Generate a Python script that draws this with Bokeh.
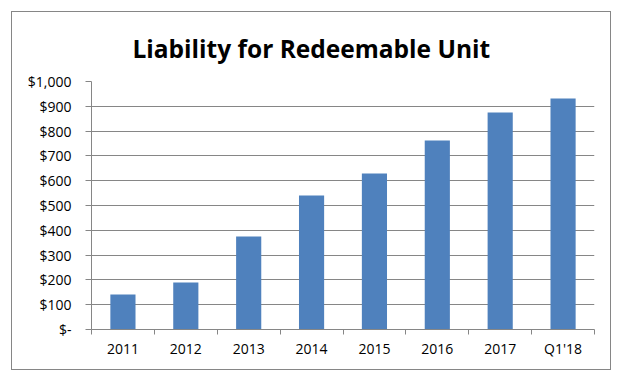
from bokeh.plotting import figure
from bokeh.models import Range1d, FixedTicker, NumeralTickFormatter, ColumnDataSource
from bokeh.embed import file_html
from bokeh.resources import INLINE

categories = ["2011", "2012", "2013", "2014", "2015", "2016", "2017", "Q1'18"]
values = [141, 190, 375, 540, 629, 762, 875, 931]
y_ticks = [0, 100, 200, 300, 400, 500, 600, 700, 800, 900, 1000]
title_text = "Liability for Redeemable Unit"

x_pos = [i + 0.5 for i in range(len(categories))]
boundaries = list(range(len(categories) + 1))
src = ColumnDataSource(dict(x=x_pos, top=values, cat=categories))

GRAY = "#868686"
FONT = "Open Sans"

p = figure(width=600, height=359, output_backend="svg", toolbar_location=None,
           x_range=Range1d(0, len(categories)), y_range=Range1d(0, 1000),
           min_border_left=79, min_border_right=18, min_border_top=69, min_border_bottom=42,
           title=title_text,
           styles={"border": "1px solid " + GRAY, "margin-left": "11px", "margin-top": "11px"})

p.vbar(x="x", top="top", width=0.4, source=src, color="#4F81BD", line_color=None)

p.title.align = "left"
p.title.vertical_align = "bottom"
p.title.text_font = FONT
p.title.text_font_size = "24.5px"
p.title.text_font_style = "bold"
p.title.text_color = "#000000"
p.title.offset = 33
p.title.standoff = 18
p.title.padding = 8

p.outline_line_color = None
p.background_fill_color = "white"
p.border_fill_color = "white"

xa = p.xaxis[0]
xa.ticker = FixedTicker(ticks=x_pos, minor_ticks=boundaries)
xa.major_label_overrides = {x: c for x, c in zip(x_pos, categories)}
xa.major_tick_line_color = None
xa.minor_tick_in = 0
xa.minor_tick_out = 5
xa.minor_tick_line_color = GRAY
xa.axis_line_color = GRAY
xa.major_label_text_font = FONT
xa.major_label_text_font_size = "14px"
xa.major_label_text_color = "#000000"
xa.major_label_standoff = 3

ya = p.yaxis[0]
ya.ticker = FixedTicker(ticks=y_ticks)
ya.formatter = NumeralTickFormatter(format="$0,0")
ya.major_label_overrides = {0: "$-"}
ya.major_tick_in = 0
ya.major_tick_out = 6
ya.major_tick_line_color = GRAY
ya.minor_tick_line_color = None
ya.axis_line_color = GRAY
ya.major_label_text_font = FONT
ya.major_label_text_font_size = "14px"
ya.major_label_text_color = "#000000"
ya.major_label_standoff = 14

p.xgrid.grid_line_color = None
p.ygrid.grid_line_color = GRAY
p.ygrid.grid_line_width = 1

open("out.html", "w").write(file_html(p, INLINE))
